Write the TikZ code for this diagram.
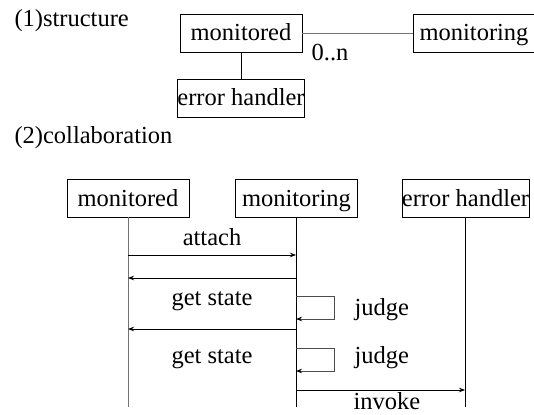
\documentclass[tikz,border=0pt]{standalone}
\usepackage{fontspec}
\setmainfont{Liberation Serif}
\usetikzlibrary{arrows.meta}

\begin{document}
\begin{tikzpicture}[x=1pt,y=-1pt,
            font=\fontsize{24.5}{28}\selectfont,
            >={Stealth[length=6pt,width=4.5pt]},
            every node/.style={text height=17pt,text depth=5pt},
            obj/.style={draw,line width=0.8pt,minimum width=122pt,minimum height=38pt,inner sep=0pt,
                text height=19pt,text depth=3pt},
            life/.style={line width=0.8pt},
            msg/.style={->,line width=0.8pt},
            self/.style={-{Stealth[length=6pt,width=4.5pt,black]},line width=0.8pt,gray!60!black},
        ]
        \useasboundingbox (0,0) rectangle (534,414);
        % (1) structure
        \node[anchor=west] (t1) at (11,21) {(1)structure};
        \node[obj] (s-mon) at (241,33) {monitored};
        \node[obj] (s-ing) at (474,33) {monitoring};
        \node[obj] (s-err) at (241,98) {error handler};
        \draw[life,gray!90!black] (s-mon) -- (s-ing);
        \node (mult) at (330,55) {0..n};
        \draw[life] (s-mon) -- (s-err);
        % (2) collaboration
        \node[anchor=west] (t2) at (11,137) {(2)collaboration};
        \node[obj] (mon) at (128,198) {monitored};
        \node[obj] (ing) at (296.5,198) {monitoring};
        \node[obj] (err) at (465.5,198) {error handler};
        \coordinate (mon-end) at (128,407);
        \coordinate (ing-end) at (296,407);
        \coordinate (err-end) at (465,407);
        \draw[life,gray!90!black] (mon) -- (mon-end);
        \draw[life] (ing.south -| ing-end) -- (ing-end);
        \draw[life] (err.south -| err-end) -- (err-end);
        % messages
        \coordinate (a1) at (128,255); \coordinate (b1) at (296,255);
        \coordinate (a2) at (128,278); \coordinate (b2) at (296,278);
        \coordinate (a3) at (128,329); \coordinate (b3) at (296,329);
        \coordinate (b4) at (296,390); \coordinate (c4) at (465,390);
        \draw[msg] (a1) -- (b1);
        \node (lb-att) at (212,239) {attach};
        \draw[msg] (b2) -- (a2);
        \node (gs1) at (212,299) {get state};
        \draw[msg] (b3) -- (a3);
        \node (gs2) at (212,357) {get state};
        \draw[msg] (b4) -- (c4);
        \node (lb-inv) at (387,403) {invoke};
        % self calls
        \coordinate (j1) at (296,296); \coordinate (k1) at (296,319);
        \coordinate (j2) at (296,348); \coordinate (k2) at (296,371);
        \draw[self] (j1) -- ++(38,0) -- ++(0,23) -- (k1);
        \draw[self] (j2) -- ++(38,0) -- ++(0,23) -- (k2);
        \node[anchor=west] (jd1) at (351,309) {judge};
        \node[anchor=west] (jd2) at (351,357) {judge};
    \end{tikzpicture}
\end{document}
